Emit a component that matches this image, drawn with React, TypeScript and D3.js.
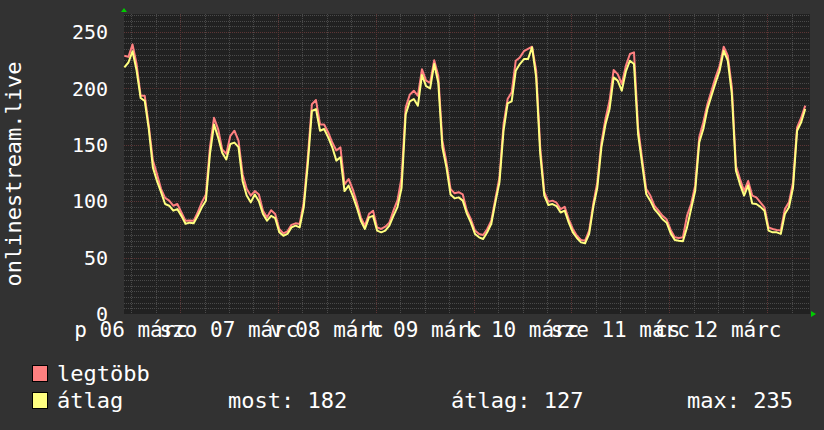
import React from 'react';
import * as d3 from 'd3';

// ---- data ----
const dayLabels = ['p 06 márc', 'szo 07 márc', 'v 08 márc', 'h 09 márc', 'k 10 márc', 'sze 11 márc', 'cs 12 márc'];
const dayNoons = [6, 7, 8, 9, 10, 11, 12];
const yTicks = [0, 50, 100, 150, 200, 250];
const seriesNames = ['legtöbb', 'átlag'];
const statLabels = ['most: 182', 'átlag: 127', 'max: 235'];
const axisTitle = 'onlinestream.live';

const avgValues = [
  218.7, 223, 233, 216, 191.5, 189, 164, 130, 118, 108,
  97.5, 96, 91.6, 93, 87, 80, 81, 80.4, 87, 94.6,
  100.5, 142, 168, 156.6, 143, 137, 150.7, 152, 148, 118,
  105, 99, 106, 100, 88.7, 82.7, 87, 85, 72.4, 69.4,
  71, 76.8, 78.3, 76.8, 94.6, 133, 180, 181.7, 162.5, 164,
  156.6, 147.8, 136, 139, 109, 113.8, 105, 94.6, 82.7, 75.4,
  85.7, 87, 73.9, 72.4, 73.9, 78.3, 87, 95, 112, 177,
  188.5, 190.6, 184.7, 212, 202, 200, 221.6, 205, 147.8, 130,
  106, 102.5, 103.4, 100.5, 89, 81, 71, 68, 66.5, 72.4,
  80, 99, 116.7, 162.5, 186.8, 188.5, 215.7, 221.6, 226, 226,
  236.4, 210, 142, 105, 96.6, 97.5, 95.7, 90, 91.6, 81,
  72.4, 67.4, 63.5, 62.6, 71, 94.6, 112, 147.8, 168, 181.7,
  209.8, 206.9, 198, 215, 224.6, 221.6, 159.6, 133, 106.4, 100.5,
  93, 88.7, 84, 81, 71.5, 65.6, 65, 64.5, 76.8, 93,
  109, 152, 164, 181.7, 193.5, 205, 215.7, 233.5, 224.6, 195,
  127, 115, 105, 114, 98, 97.5, 95, 91.6, 73.9, 72.4,
  72.4, 71, 88.7, 94.6, 112, 162.5, 170, 181.7,
];
const maxValues = [
  229, 228, 239, 221.6, 193.5, 193.5, 167, 136, 124, 111,
  103, 100.5, 96, 97.5, 90, 82.7, 83, 82.7, 90, 99,
  106, 148, 174, 164, 146, 142, 158, 162.5, 153.7, 124,
  111, 105, 109, 106, 91.6, 85.7, 92, 88.7, 75.4, 71.5,
  73.3, 79, 80.4, 79.8, 99, 139, 186, 189.7, 168, 168,
  161, 152, 145, 147.8, 115, 119.7, 110.8, 99, 85.7, 78.3,
  88.7, 91.6, 76.8, 75.4, 77.4, 81, 91.6, 101, 121, 183,
  194.4, 198, 193.5, 217, 207, 205, 225, 211, 153.7, 134.5,
  111, 107, 108, 106, 91.6, 84, 74, 71, 70, 75.4,
  82.7, 102, 121, 168, 190.6, 196.5, 224.6, 227.5, 233, 235,
  237, 216, 147.8, 108, 99.6, 100.5, 98.7, 93, 95, 84,
  75.4, 69.4, 65.6, 65, 74, 97.5, 116.7, 152, 172.9, 189,
  216.3, 212.7, 204, 220, 230.5, 232, 165.5, 137.4, 110.8, 105,
  96, 91.6, 87, 84, 74.5, 68, 67.4, 68, 87, 97.5,
  113.8, 156.6, 170, 186, 198, 209.8, 220, 237, 229, 201,
  131.5, 119.7, 109, 118, 105, 103.4, 99, 94.6, 76.8, 75.4,
  74.5, 74, 93, 99, 116.7, 165.5, 174, 184.7,
];

// ---- layout ----
const W = 824;
const H = 430;
const L = 124, R = 810, T = 14, B = 314;
const FONT = "'DejaVu Sans Mono', monospace";
const tStart = Date.UTC(2020, 2, 6, 10, 15);
const tEnd = Date.UTC(2020, 2, 13, 10, 30);
const dataStart = Date.UTC(2020, 2, 6, 10, 20);
const stepMs = 3600 * 1000;

export default function App() {
  const x = d3.scaleUtc().domain([new Date(tStart), new Date(tEnd)]).range([L, R]);
  const y = d3.scaleLinear().domain([0, 266]).range([B, T]);

  const pts = (vals: number[]) => vals.map((v, i) => ({ t: new Date(dataStart + i * stepMs), v }));
  const line = d3.line<{ t: Date; v: number }>().x(d => x(d.t)).y(d => y(d.v));

  const minorH = d3.range(5, 266, 5).filter(v => v % 50 !== 0);
  const majorH = d3.range(50, 266, 50);
  const sixH = d3.utcHour.every(6)!.range(new Date(tStart), new Date(tEnd)).filter(d => d.getUTCHours() !== 0);
  const days = d3.utcDay.range(new Date(tStart), new Date(tEnd));

  const minorColor = '#4a4a4a';
  const majorColor = '#5c3535';

  return (
    <svg width={W} height={H} style={{ position: 'absolute', left: 0, top: 0, display: 'block' }}>
      <rect x={0} y={0} width={W} height={H} fill="#323232" />
      <rect x={L} y={T} width={R - L} height={B - T} fill="#212121" />
      {minorH.map(v => (
        <line key={'mh' + v} x1={L} x2={R} y1={Math.round(y(v)) + 0.5} y2={Math.round(y(v)) + 0.5}
          stroke={minorColor} strokeWidth={1} strokeDasharray="1,1" />
      ))}
      {sixH.map(d => (
        <line key={'mv' + d.getTime()} x1={Math.round(x(d)) + 0.5} x2={Math.round(x(d)) + 0.5} y1={T} y2={B}
          stroke={minorColor} strokeWidth={1} strokeDasharray="1,1" />
      ))}
      {majorH.map(v => (
        <line key={'Mh' + v} x1={L} x2={R} y1={Math.round(y(v)) + 0.5} y2={Math.round(y(v)) + 0.5}
          stroke={majorColor} strokeWidth={1} strokeDasharray="1,1" />
      ))}
      {days.map(d => (
        <line key={'Mv' + d.getTime()} x1={Math.round(x(d)) + 0.5} x2={Math.round(x(d)) + 0.5} y1={T} y2={B}
          stroke={majorColor} strokeWidth={1} strokeDasharray="1,1" />
      ))}

      <path d={line(pts(maxValues)) || ''} fill="none" stroke="#ff8080" strokeWidth={2} strokeLinejoin="round" />
      <path d={line(pts(avgValues)) || ''} fill="none" stroke="#ffff80" strokeWidth={2} strokeLinejoin="round" />

      {/* arrows */}
      <path d={`M${L - 3},${T - 2} L${L + 3},${T - 2} L${L},${T - 6} Z`} fill="#00cc00" />
      <path d={`M${R + 1},${B - 3} L${R + 1},${B + 3} L${R + 6},${B} Z`} fill="#00cc00" />

      {/* y axis labels */}
      {yTicks.map(v => (
        <text key={'yl' + v} x={108} y={y(v)} dy="0.36em" textAnchor="end" fill="#ffffff"
          fontFamily={FONT} fontSize={20}>{v}</text>
      ))}
      {/* x axis labels */}
      {dayLabels.map((lab, i) => (
        <text key={'xl' + i} x={x(new Date(Date.UTC(2020, 2, dayNoons[i], 12)))} y={337} textAnchor="middle"
          fill="#ffffff" fontFamily={FONT} fontSize={21}>{lab}</text>
      ))}
      {/* y title */}
      <text transform={`translate(21,${(T + B) / 2 + 10}) rotate(-90)`} textAnchor="middle" fill="#ffffff"
        fontFamily={FONT} fontSize={22}>{axisTitle}</text>

      {/* legend */}
      <rect x={32.5} y={365.5} width={15} height={16} fill="#ff8080" stroke="#000" strokeWidth={1} />
      <rect x={32.5} y={392.5} width={15} height={16} fill="#ffff80" stroke="#000" strokeWidth={1} />
      <text x={57} y={381} fill="#ffffff" fontFamily={FONT} fontSize={22}>{seriesNames[0]}</text>
      <text x={57} y={408} fill="#ffffff" fontFamily={FONT} fontSize={22}>{seriesNames[1]}</text>
      <text x={228} y={408} fill="#ffffff" fontFamily={FONT} fontSize={22}>{statLabels[0]}</text>
      <text x={451} y={408} fill="#ffffff" fontFamily={FONT} fontSize={22}>{statLabels[1]}</text>
      <text x={687} y={408} fill="#ffffff" fontFamily={FONT} fontSize={22}>{statLabels[2]}</text>
    </svg>
  );
}
